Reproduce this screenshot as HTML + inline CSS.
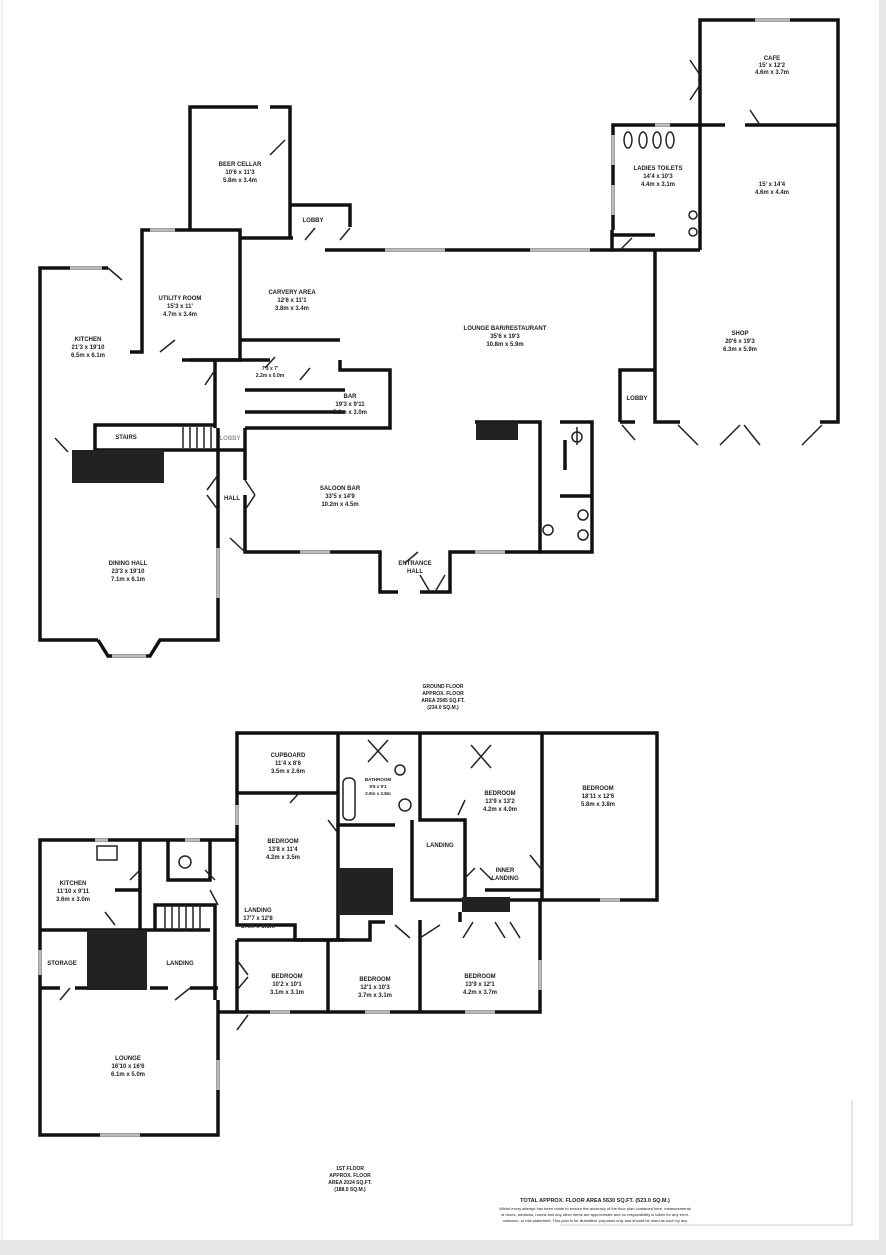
<!DOCTYPE html>
<html><head><meta charset="utf-8"><style>
html,body{margin:0;padding:0;background:#fff;}
svg{display:block;}
text{font-family:"Liberation Sans",sans-serif;font-weight:bold;font-size:6px;fill:#222;text-anchor:middle;}
.w{stroke:#111;stroke-width:3.5;fill:none;}
.t{stroke:#222;stroke-width:1.5;fill:none;}
.win{stroke:#bbb;stroke-width:3;}
</style></head><body>
<svg width="886" height="1255" viewBox="0 0 886 1255" xmlns="http://www.w3.org/2000/svg">
<rect width="886" height="1255" fill="#fff"/>
<rect x="0" y="1240" width="886" height="15" fill="#e6e6e6"/>
<rect x="879" y="0" width="7" height="1255" fill="#e6e6e6"/>
<line x1="2" y1="0" x2="2" y2="1240" stroke="#ddd" stroke-width="1"/>

<!-- GROUND FLOOR -->
<g class="w">
<polyline points="108,268 40,268 40,640 98,640"/>
<polyline points="98,640 108,656 150,656 160,640 218,640 218,455"/>
<polyline points="130,352 142,352 142,230 240,230 240,360 190,360"/>
<polyline points="182,360 270,360"/>
<polyline points="190,230 190,107 258,107"/>
<polyline points="290,238 290,107 270,107"/>
<polyline points="240,340 340,340"/>
<polyline points="240,340 240,340"/>
<polyline points="290,205 350,205 350,227"/>
<polyline points="293,238 240,238"/>
<polyline points="325,250 612,250 612,230"/>
<polyline points="612,250 640,250"/>
<polyline points="613,230 613,125 700,125"/>
<polyline points="613,235 655,235"/>
<polyline points="700,250 700,20 838,20 838,422 820,422"/>
<polyline points="700,125 725,125"/>
<polyline points="745,125 838,125"/>
<polyline points="655,250 655,422 680,422"/>
<polyline points="640,250 700,250"/>
<polyline points="620,422 620,370 655,370"/>
<polyline points="620,422 635,422"/>
<polyline points="340,360 340,370 390,370 390,428 245,428"/>
<polyline points="245,390 345,390"/>
<polyline points="245,412 345,412"/>
<polyline points="215,360 215,428"/>
<polyline points="95,450 95,425 215,425"/>
<polyline points="95,450 245,450"/>
<polyline points="245,480 245,428"/>
<polyline points="218,455 218,428"/>
<polyline points="245,495 245,552 380,552 380,592 398,592"/>
<polyline points="420,592 450,592 450,552 540,552 540,422 475,422"/>
<polyline points="540,552 592,552 592,422 560,422"/>
<polyline points="565,440 565,470"/>
<polyline points="560,496 592,496"/>
</g>
<rect x="72" y="450" width="92" height="33" fill="#222"/>
<rect x="476" y="422" width="42" height="18" fill="#222"/>
<g class="win">
<line x1="70" y1="268" x2="102" y2="268"/><line x1="112" y1="656" x2="146" y2="656"/>
<line x1="218" y1="548" x2="218" y2="598"/><line x1="150" y1="230" x2="175" y2="230"/>
<line x1="385" y1="250" x2="445" y2="250"/><line x1="530" y1="250" x2="590" y2="250"/>
<line x1="300" y1="552" x2="330" y2="552"/><line x1="475" y1="552" x2="505" y2="552"/>
<line x1="755" y1="20" x2="790" y2="20"/><line x1="613" y1="135" x2="613" y2="165"/>
<line x1="613" y1="185" x2="613" y2="215"/><line x1="655" y1="125" x2="670" y2="125"/>
</g>
<g class="t">
<line x1="108" y1="268" x2="122" y2="280"/><line x1="160" y1="352" x2="175" y2="340"/>
<line x1="270" y1="155" x2="285" y2="140"/><line x1="305" y1="240" x2="315" y2="228"/>
<line x1="340" y1="240" x2="350" y2="228"/><line x1="620" y1="250" x2="632" y2="238"/>
<line x1="690" y1="100" x2="700" y2="85"/><line x1="690" y1="60" x2="700" y2="75"/>
<line x1="750" y1="110" x2="760" y2="125"/><line x1="622" y1="425" x2="635" y2="440"/>
<line x1="678" y1="425" x2="698" y2="445"/><line x1="720" y1="445" x2="740" y2="425"/>
<line x1="744" y1="425" x2="760" y2="445"/><line x1="802" y1="445" x2="822" y2="425"/>
<line x1="265" y1="368" x2="275" y2="357"/><line x1="300" y1="380" x2="310" y2="368"/>
<line x1="205" y1="385" x2="215" y2="370"/><line x1="55" y1="438" x2="68" y2="452"/>
<line x1="207" y1="490" x2="218" y2="475"/><line x1="207" y1="495" x2="218" y2="510"/>
<line x1="245" y1="480" x2="255" y2="495"/><line x1="245" y1="510" x2="255" y2="495"/>
<line x1="230" y1="538" x2="245" y2="552"/><line x1="405" y1="563" x2="418" y2="552"/>
<line x1="420" y1="575" x2="430" y2="592"/><line x1="445" y1="575" x2="435" y2="592"/>
<line x1="577" y1="427" x2="577" y2="445"/><line x1="183" y1="427" x2="183" y2="448"/>
<line x1="190" y1="427" x2="190" y2="448"/><line x1="197" y1="427" x2="197" y2="448"/>
<line x1="204" y1="427" x2="204" y2="448"/><line x1="211" y1="427" x2="211" y2="448"/>
<ellipse cx="628" cy="140" rx="4" ry="8"/><ellipse cx="643" cy="140" rx="4" ry="8"/>
<ellipse cx="657" cy="140" rx="4" ry="8"/><ellipse cx="670" cy="140" rx="4" ry="8"/>
<circle cx="693" cy="215" r="4"/><circle cx="693" cy="232" r="4"/>
<circle cx="577" cy="437" r="5"/><circle cx="548" cy="530" r="5"/><circle cx="583" cy="515" r="5"/><circle cx="583" cy="535" r="5"/>
</g>
<text x="240" y="166">BEER CELLAR</text><text x="240" y="174">10'6 x 11'3</text><text x="240" y="182">5.8m x 3.4m</text>
<text x="313" y="222">LOBBY</text>
<text x="180" y="300">UTILITY ROOM</text><text x="180" y="308">15'3 x 11'</text><text x="180" y="316">4.7m x 3.4m</text>
<text x="292" y="294">CARVERY AREA</text><text x="292" y="302">12'6 x 11'1</text><text x="292" y="310">3.8m x 3.4m</text>
<text x="88" y="341">KITCHEN</text><text x="88" y="349">21'3 x 19'10</text><text x="88" y="357">6.5m x 6.1m</text>
<text x="505" y="330">LOUNGE BAR/RESTAURANT</text><text x="505" y="338">35'6 x 19'3</text><text x="505" y="346">10.8m x 5.9m</text>
<text x="350" y="398">BAR</text><text x="350" y="406">19'3 x 9'11</text><text x="350" y="414">5.8m x 3.0m</text>
<text x="270" y="370" style="font-size:5px">7'3 x 7'</text><text x="270" y="377" style="font-size:5px">2.2m x 0.0m</text>
<text x="126" y="439">STAIRS</text><text x="230" y="440" style="fill:#999">LOBBY</text>
<text x="232" y="500">HALL</text>
<text x="340" y="490">SALOON BAR</text><text x="340" y="498">33'5 x 14'9</text><text x="340" y="506">10.2m x 4.5m</text>
<text x="415" y="565">ENTRANCE</text><text x="415" y="573">HALL</text>
<text x="128" y="565">DINING HALL</text><text x="128" y="573">23'3 x 19'10</text><text x="128" y="581">7.1m x 6.1m</text>
<text x="658" y="170">LADIES TOILETS</text><text x="658" y="178">14'4 x 10'3</text><text x="658" y="186">4.4m x 3.1m</text>
<text x="772" y="60">CAFE</text><text x="772" y="67">15' x 12'2</text><text x="772" y="74">4.6m x 3.7m</text>
<text x="772" y="186">15' x 14'4</text><text x="772" y="194">4.6m x 4.4m</text>
<text x="740" y="335">SHOP</text><text x="740" y="343">20'6 x 19'3</text><text x="740" y="351">6.3m x 5.9m</text>
<text x="637" y="400">LOBBY</text>
<text x="443" y="688" style="font-size:5px">GROUND FLOOR</text><text x="443" y="695" style="font-size:5px">APPROX. FLOOR</text>
<text x="443" y="702" style="font-size:5px">AREA 2585 SQ.FT.</text><text x="443" y="709" style="font-size:5px">(234.0 SQ.M.)</text>

<!-- FIRST FLOOR -->
<g class="w">
<polyline points="237,860 237,733 657,733 657,900 540,900"/>
<polyline points="237,793 338,793"/>
<polyline points="338,733 338,825 395,825"/>
<polyline points="420,733 420,820 465,820 465,900"/>
<polyline points="542,733 542,900"/>
<polyline points="485,890 542,890"/>
<polyline points="412,820 412,900 540,900 540,1012 218,1012"/>
<polyline points="237,860 237,925 295,925 295,940 345,940"/>
<polyline points="338,825 338,940"/>
<polyline points="237,840 40,840 40,1135 218,1135 218,1000"/>
<polyline points="140,840 140,890"/>
<polyline points="168,840 168,880 210,880 210,840"/>
<polyline points="115,890 140,890 140,930"/>
<polyline points="40,930 210,930"/>
<polyline points="155,930 155,905 215,905 215,930"/>
<polyline points="215,930 215,1000"/>
<polyline points="40,988 60,988"/><polyline points="75,988 100,988"/>
<polyline points="150,988 168,988"/><polyline points="190,988 218,988"/>
<polyline points="237,940 237,1012"/>
<polyline points="237,940 370,940 370,922 385,922"/>
<polyline points="328,940 328,1012"/>
<polyline points="420,920 420,1012"/>
<polyline points="460,912 460,922"/>
</g>
<rect x="87" y="930" width="60" height="60" fill="#222"/>
<rect x="338" y="868" width="55" height="47" fill="#222"/>
<rect x="462" y="897" width="48" height="15" fill="#222"/>
<g class="win">
<line x1="237" y1="805" x2="237" y2="825"/><line x1="95" y1="840" x2="108" y2="840"/>
<line x1="40" y1="950" x2="40" y2="975"/><line x1="218" y1="1060" x2="218" y2="1090"/>
<line x1="100" y1="1135" x2="140" y2="1135"/><line x1="270" y1="1012" x2="290" y2="1012"/>
<line x1="365" y1="1012" x2="390" y2="1012"/><line x1="465" y1="1012" x2="495" y2="1012"/>
<line x1="540" y1="960" x2="540" y2="990"/><line x1="600" y1="900" x2="620" y2="900"/>
<line x1="185" y1="840" x2="200" y2="840"/>
</g>
<g class="t">
<line x1="290" y1="803" x2="300" y2="792"/><line x1="328" y1="820" x2="338" y2="833"/>
<line x1="480" y1="868" x2="492" y2="880"/><line x1="465" y1="878" x2="475" y2="868"/>
<line x1="530" y1="855" x2="542" y2="870"/><line x1="458" y1="815" x2="465" y2="800"/>
<line x1="395" y1="925" x2="410" y2="938"/><line x1="420" y1="938" x2="440" y2="925"/>
<line x1="463" y1="938" x2="473" y2="922"/><line x1="495" y1="922" x2="505" y2="938"/>
<line x1="510" y1="922" x2="520" y2="938"/><line x1="237" y1="990" x2="248" y2="977"/>
<line x1="237" y1="960" x2="248" y2="975"/><line x1="237" y1="1030" x2="248" y2="1015"/>
<line x1="60" y1="1000" x2="70" y2="988"/><line x1="175" y1="1000" x2="190" y2="988"/>
<line x1="130" y1="880" x2="140" y2="870"/><line x1="105" y1="912" x2="115" y2="925"/>
<line x1="210" y1="890" x2="218" y2="905"/><line x1="205" y1="870" x2="215" y2="880"/>
<line x1="165" y1="905" x2="165" y2="930"/><line x1="172" y1="905" x2="172" y2="930"/>
<line x1="179" y1="905" x2="179" y2="930"/><line x1="186" y1="905" x2="186" y2="930"/>
<line x1="193" y1="905" x2="193" y2="930"/><line x1="200" y1="905" x2="200" y2="930"/>
<rect x="343" y="778" width="12" height="42" rx="5"/>
<circle cx="405" cy="805" r="6"/><circle cx="400" cy="770" r="5"/>
<rect x="97" y="846" width="20" height="14"/>
<circle cx="185" cy="862" r="6"/>
<path d="M368,740 L388,762 M388,740 L368,762"/><path d="M471,745 L491,768 M491,745 L471,768"/>
</g>
<text x="288" y="801" transform="translate(0,-44)">CUPBOARD</text>
<text x="288" y="765">11'4 x 8'6</text><text x="288" y="773">3.5m x 2.6m</text>
<text x="378" y="781" style="font-size:4.5px">BATHROOM</text><text x="378" y="788" style="font-size:4.5px">9'6 x 9'1</text><text x="378" y="795" style="font-size:4.5px">2.9m x 2.8m</text>
<text x="500" y="795">BEDROOM</text><text x="500" y="803">13'9 x 13'2</text><text x="500" y="811">4.2m x 4.0m</text>
<text x="598" y="790">BEDROOM</text><text x="598" y="798">18'11 x 12'6</text><text x="598" y="806">5.8m x 3.8m</text>
<text x="283" y="843">BEDROOM</text><text x="283" y="851">13'8 x 11'4</text><text x="283" y="859">4.2m x 3.5m</text>
<text x="440" y="847">LANDING</text>
<text x="505" y="872">INNER</text><text x="505" y="880">LANDING</text>
<text x="73" y="885">KITCHEN</text><text x="73" y="893">11'10 x 9'11</text><text x="73" y="901">3.6m x 3.0m</text>
<text x="258" y="912">LANDING</text><text x="258" y="920">17'7 x 12'8</text><text x="258" y="928">5.4m x 3.8m</text>
<text x="62" y="965">STORAGE</text><text x="180" y="965">LANDING</text>
<text x="287" y="978">BEDROOM</text><text x="287" y="986">10'2 x 10'1</text><text x="287" y="994">3.1m x 3.1m</text>
<text x="375" y="981">BEDROOM</text><text x="375" y="989">12'1 x 10'3</text><text x="375" y="997">3.7m x 3.1m</text>
<text x="480" y="978">BEDROOM</text><text x="480" y="986">13'9 x 12'1</text><text x="480" y="994">4.2m x 3.7m</text>
<text x="128" y="1060">LOUNGE</text><text x="128" y="1068">16'10 x 16'6</text><text x="128" y="1076">6.1m x 5.0m</text>
<text x="350" y="1170" style="font-size:5px">1ST FLOOR</text><text x="350" y="1177" style="font-size:5px">APPROX. FLOOR</text>
<text x="350" y="1184" style="font-size:5px">AREA 2024 SQ.FT.</text><text x="350" y="1191" style="font-size:5px">(188.0 SQ.M.)</text>
<text x="595" y="1202" style="font-size:5.5px">TOTAL APPROX. FLOOR AREA 5630 SQ.FT. (523.0 SQ.M.)</text>
<text x="595" y="1210" style="font-size:4px;font-weight:normal">Whilst every attempt has been made to ensure the accuracy of the floor plan contained here, measurements</text>
<text x="595" y="1216" style="font-size:4px;font-weight:normal">of doors, windows, rooms and any other items are approximate and no responsibility is taken for any error,</text>
<text x="595" y="1222" style="font-size:4px;font-weight:normal">omission, or mis-statement. This plan is for illustrative purposes only and should be used as such by any</text>
<polyline points="852,1100 852,1225 560,1225" stroke="#ccc" stroke-width="1" fill="none"/>
</svg>
</body></html>
